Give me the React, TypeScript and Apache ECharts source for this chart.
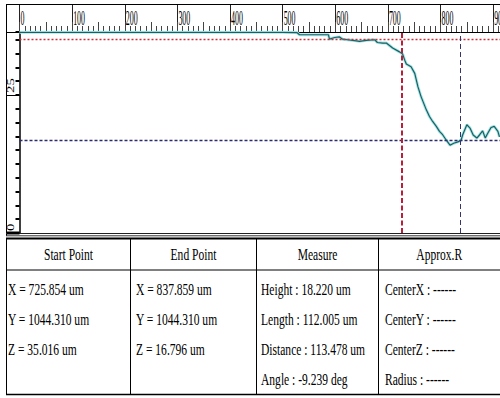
import React, { useEffect, useRef } from 'react';
import * as echarts from 'echarts';

// Profile data (X in um, Z in um)
const profileX = [0, 100, 200, 300, 400, 500, 527, 532, 587, 589, 599, 608, 614, 623, 640, 646, 659, 675, 680, 690, 697, 709, 722, 728, 732, 735, 744, 751, 757, 763, 773, 779, 785, 792, 798, 804, 811, 818, 825, 833, 839, 842, 850, 856, 862, 869, 874, 880, 885, 890, 896, 902, 909, 912];
const profileZ = [36.35, 36.35, 36.35, 36.35, 36.35, 36.35, 36.3, 35.9, 35.9, 35.1, 35.4, 35.5, 35.1, 35.0, 34.8, 34.7, 34.9, 35.0, 34.5, 34.4, 34.4, 33.5, 32.8, 32.4, 31.3, 30.6, 30.1, 28.9, 26.5, 24.7, 22.3, 21.1, 20.2, 19.3, 18.4, 17.8, 16.8, 15.9, 16.25, 16.5, 16.8, 17.75, 19.6, 19.0, 17.75, 17.2, 17.75, 18.5, 17.2, 18.1, 19.1, 19.3, 18.4, 17.4];

// Cursor markers
const startX = 725.854;
const endX = 837.859;
const startZ = 35.016;
const endZ = 16.796;

// Tick labels
const xTickLabels = [0, 100, 200, 300, 400, 500, 600, 700, 800, 900];
const yTickLabels = [0, 25];

// Table texts
const tableHeaders = ['Start Point', 'End Point', 'Measure', 'Approx.R'];
const startRows = ['X = 725.854 um', 'Y = 1044.310 um', 'Z = 35.016 um'];
const endRows = ['X = 837.859 um', 'Y = 1044.310 um', 'Z = 16.796 um'];
const measureRows = ['Height : 18.220 um', 'Length : 112.005 um', 'Distance : 113.478 um', 'Angle : -9.239 deg'];
const approxRows = ['CenterX : ------', 'CenterY : ------', 'CenterZ : ------', 'Radius : ------'];

const X_MAX = 913;
const Y_MAX = 36.4;
const FONT = '"Liberation Serif", "Times New Roman", serif';

export default function App() {
  const ref = useRef<HTMLDivElement>(null);

  useEffect(() => {
    if (!ref.current) return;
    const chart = echarts.init(ref.current, null, { renderer: 'svg', width: 500, height: 398 });
    const pairs = profileX.map((x, i) => [x, profileZ[i]]);

    chart.setOption({
      animation: false,
      backgroundColor: '#ffffff',
      grid: { left: 19.5, top: 32, right: 0, bottom: 165, containLabel: false, outerBoundsMode: 'none' },
      xAxis: [
        {
          type: 'value', position: 'top', min: 0, max: X_MAX, interval: 100,
          axisLine: { show: true, onZero: false, lineStyle: { color: '#000', width: 1 } },
          axisTick: { show: true, length: 28, lineStyle: { color: '#222', width: 1 } },
          minorTick: { show: true, splitNumber: 10, length: 6, lineStyle: { color: '#444', width: 1 } },
          axisLabel: { show: false }, splitLine: { show: false }, minorSplitLine: { show: false },
        },
        {
          type: 'value', position: 'top', min: 0, max: X_MAX, interval: 50,
          axisLine: { show: false, onZero: false },
          axisTick: { show: true, length: 10, lineStyle: { color: '#444', width: 1 } },
          axisLabel: { show: false }, splitLine: { show: false },
        },
      ],
      yAxis: [
        {
          type: 'value', position: 'left', min: 0, max: Y_MAX, interval: 2.5,
          axisLine: { show: true, onZero: false, lineStyle: { color: '#000', width: 1.5 } },
          axisTick: { show: true, length: 4, lineStyle: { color: '#000', width: 2 } },
          axisLabel: { show: false }, splitLine: { show: false },
        },
        {
          type: 'value', position: 'left', min: 0, max: Y_MAX, interval: 25,
          axisLine: { show: false, onZero: false },
          axisTick: { show: true, length: 13, lineStyle: { color: '#000', width: 1 } },
          axisLabel: { show: false }, splitLine: { show: false },
        },
      ],
      series: [
        {
          type: 'line', data: pairs, symbol: 'none', silent: true, clip: true, z: 2,
          lineStyle: { color: '#a6e6e8', width: 3 },
        },
        {
          type: 'line', data: pairs, symbol: 'none', silent: true, clip: true, z: 3,
          lineStyle: { color: '#1d5f61', width: 1.2 },
          markLine: {
            symbol: 'none', silent: true, label: { show: false }, animation: false,
            data: [
              { yAxis: startZ, lineStyle: { color: '#c8323a', width: 1.3, type: [2, 2] } },
              { yAxis: endZ, lineStyle: { color: '#2c2c6c', width: 1.3, type: [3, 2] } },
              { xAxis: startX, lineStyle: { color: '#b8203a', width: 2, type: [5, 2.5] } },
              { xAxis: endX, lineStyle: { color: '#34346e', width: 1, type: [5, 3] } },
            ],
          },
        },
      ],
    });

    const px = (x: number) => (chart.convertToPixel({ gridIndex: 0 }, [x, 0]) as number[])[0];
    const py = (y: number) => (chart.convertToPixel({ gridIndex: 0 }, [0, y]) as number[])[1];

    const line = (x1: number, y1: number, x2: number, y2: number, w = 1, c = '#000') => ({
      type: 'line', silent: true, z: 10,
      shape: { x1, y1, x2, y2 }, style: { stroke: c, lineWidth: w },
    });
    const text = (t: string, x: number, y: number, opts: any = {}) => ({
      type: 'text', silent: true, z: 11, x, y,
      scaleX: opts.scaleX ?? 0.7, rotation: opts.rotation ?? 0,
      style: {
        text: t, fontFamily: FONT, fontSize: opts.fontSize ?? 16.5, fill: '#000',
        align: opts.align ?? 'left', verticalAlign: 'middle',
      },
    });

    const g: any[] = [];
    // frame
    g.push(line(6, 4.5, 500, 4.5, 1));
    g.push(line(6.5, 4, 6.5, 236, 1));
    g.push(line(6, 233.5, 500, 233.5, 1, '#222'));
    g.push(line(6, 235.8, 500, 235.8, 1, '#333'));
    g.push({ type: 'rect', silent: true, z: 10, shape: { x: 7, y: 231.5, width: 12.5, height: 3 }, style: { fill: '#000' } });

    // ruler labels
    xTickLabels.forEach((v) => {
      g.push(text(String(v), px(v) + 1, 17.5, { fontSize: 22, scaleX: 0.36 }));
    });
    yTickLabels.forEach((v) => {
      g.push(text(String(v), 10.5, py(v) - 2, { fontSize: 11, scaleX: 1.35, rotation: Math.PI / 2 }));
    });

    // table
    const colEdges = [6.5, 130.5, 256.5, 378.5, 500];
    const tTop = 238.5, tHead = 270, tBottom = 394.5;
    g.push(line(6, tTop, 500, tTop, 2));
    g.push(line(6, tHead, 500, tHead, 1));
    g.push(line(6, tBottom, 500, tBottom, 1.5));
    colEdges.slice(0, 4).forEach((x) => g.push(line(x, tTop, x, tBottom, 1)));

    const headerY = 254.5;
    const rowY = [289.5, 319.5, 349.5, 379.5];
    const textX = [8, 136, 261, 385];
    tableHeaders.forEach((h, i) => {
      const cx = (colEdges[i] + colEdges[i + 1]) / 2;
      g.push(text(h, cx, headerY, { align: 'center', scaleX: 0.7 }));
    });
    [startRows, endRows, measureRows, approxRows].forEach((rows, c) => {
      rows.forEach((r, i) => g.push(text(r, textX[c], rowY[i])));
    });

    chart.setOption({ graphic: g });

    return () => chart.dispose();
  }, []);

  return (
    <div
      ref={ref}
      style={{ position: 'absolute', left: 0, top: 0, width: 500, height: 398, background: '#fff' }}
    />
  );
}
